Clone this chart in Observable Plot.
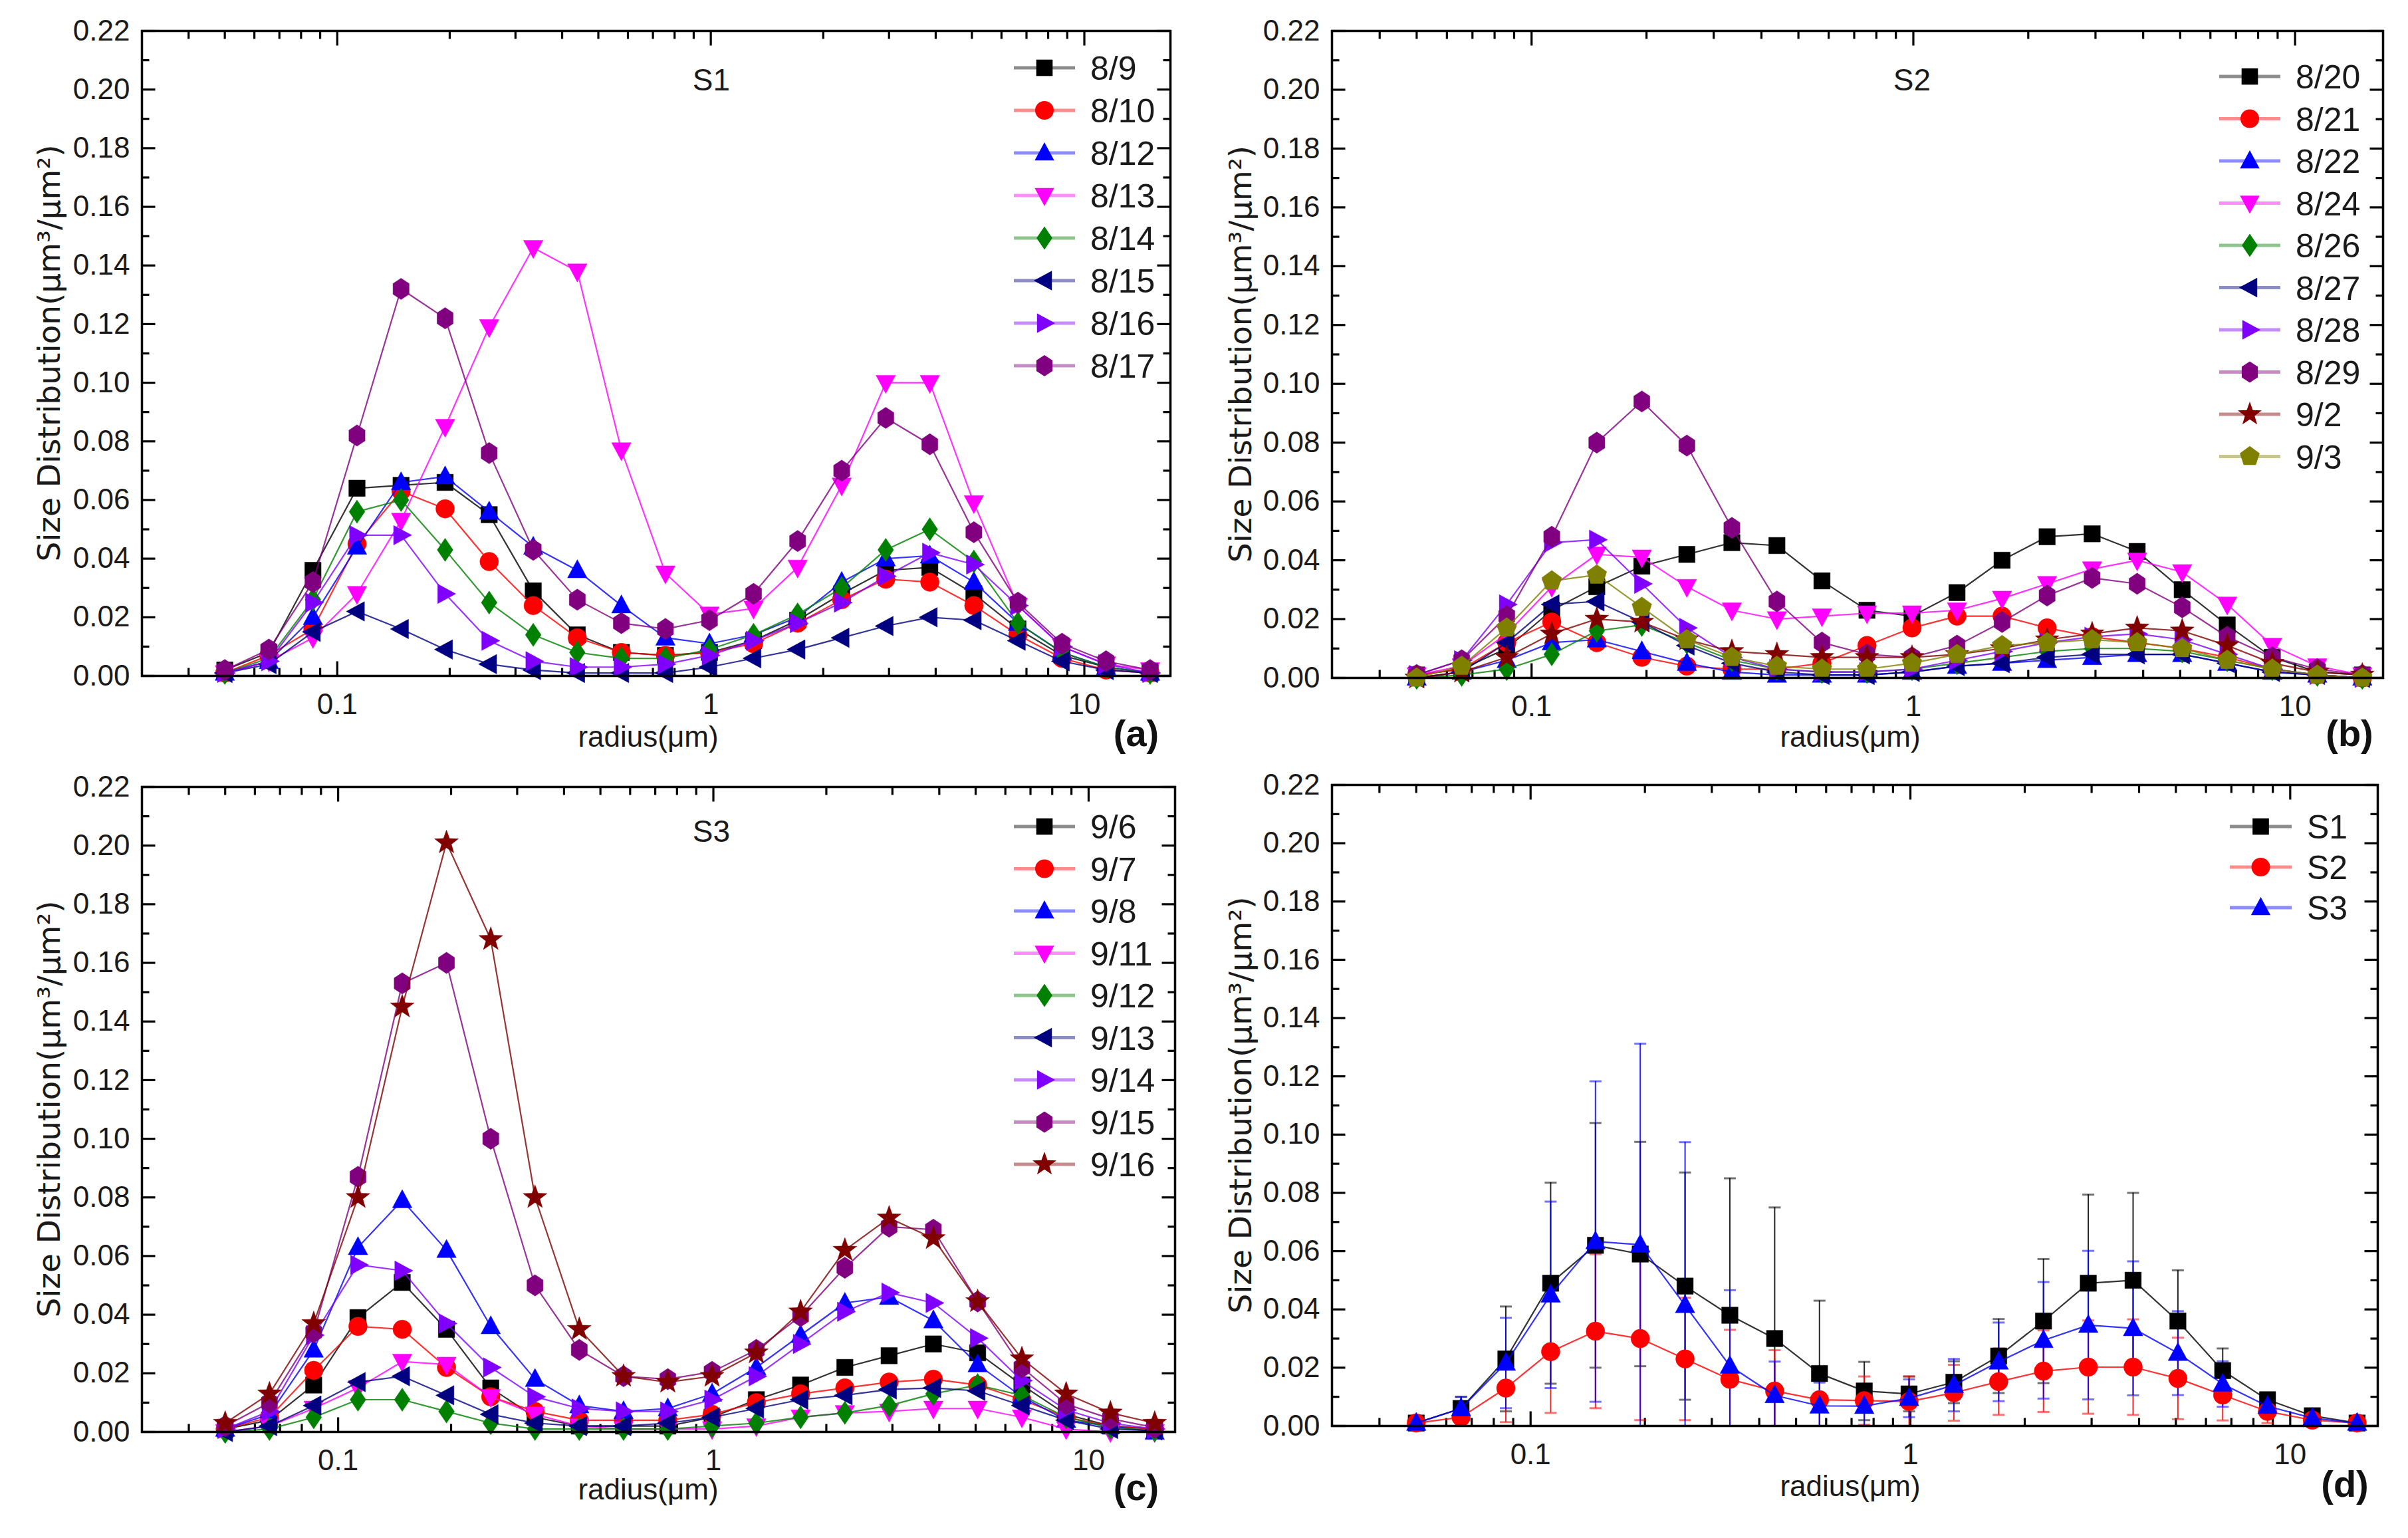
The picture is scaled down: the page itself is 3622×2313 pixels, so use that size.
<!DOCTYPE html>
<html><head><meta charset="utf-8">
<script src="https://cdn.jsdelivr.net/npm/d3@7"></script>
<script src="https://cdn.jsdelivr.net/npm/@observablehq/plot@0.6"></script>
<style>
html,body{margin:0;padding:0;background:#fff;}
#root{position:relative;width:3622px;height:2313px;overflow:hidden;background:#fff;}
#root svg{position:absolute;overflow:visible;}
</style></head><body><div id="root"></div>
<script>
// ---------------- data ----------------
const radius = [0.05, 0.065604, 0.086077, 0.112939, 0.148184, 0.194429, 0.255105, 0.334716, 0.439173, 0.576227, 0.756052, 0.991996, 1.301571, 1.707757, 2.240702, 2.939966, 3.857452, 5.06126, 6.640745, 8.713145, 11.432287, 15.0];
const yTicks = [0, 0.02, 0.04, 0.06, 0.08, 0.10, 0.12, 0.14, 0.16, 0.18, 0.20, 0.22];
const xTicks = [0.1, 1, 10];

// panel (a) S1
const a0809 = [0.002, 0.008, 0.036, 0.064, 0.065, 0.066, 0.055, 0.029, 0.014, 0.008, 0.007, 0.008, 0.012, 0.019, 0.028, 0.036, 0.037, 0.028, 0.016, 0.007, 0.003, 0.001];
const a0810 = [0.001, 0.007, 0.016, 0.045, 0.063, 0.057, 0.039, 0.024, 0.013, 0.008, 0.007, 0.008, 0.011, 0.018, 0.026, 0.033, 0.032, 0.024, 0.014, 0.006, 0.002, 0.001];
const a0812 = [0.001, 0.005, 0.020, 0.044, 0.066, 0.068, 0.056, 0.044, 0.036, 0.024, 0.013, 0.011, 0.014, 0.020, 0.032, 0.040, 0.041, 0.032, 0.018, 0.008, 0.003, 0.001];
const a0813 = [0.001, 0.005, 0.013, 0.028, 0.053, 0.085, 0.119, 0.146, 0.138, 0.077, 0.035, 0.021, 0.023, 0.037, 0.065, 0.100, 0.100, 0.059, 0.024, 0.010, 0.004, 0.002];
const a0814 = [0.001, 0.006, 0.026, 0.056, 0.060, 0.043, 0.025, 0.014, 0.008, 0.006, 0.006, 0.009, 0.014, 0.021, 0.030, 0.043, 0.050, 0.039, 0.018, 0.008, 0.003, 0.001];
const a0815 = [0.001, 0.004, 0.015, 0.022, 0.016, 0.009, 0.004, 0.002, 0.001, 0.001, 0.001, 0.003, 0.006, 0.009, 0.013, 0.017, 0.020, 0.019, 0.012, 0.005, 0.002, 0.001];
const a0816 = [0.001, 0.005, 0.025, 0.048, 0.048, 0.028, 0.012, 0.005, 0.003, 0.003, 0.004, 0.007, 0.012, 0.018, 0.025, 0.034, 0.042, 0.038, 0.024, 0.010, 0.004, 0.001];
const a0817 = [0.002, 0.009, 0.032, 0.082, 0.132, 0.122, 0.076, 0.043, 0.026, 0.018, 0.016, 0.019, 0.028, 0.046, 0.070, 0.088, 0.079, 0.049, 0.025, 0.011, 0.005, 0.002];

// panel (b) S2
const b0820 = [0.001, 0.003, 0.010, 0.023, 0.031, 0.038, 0.042, 0.046, 0.045, 0.033, 0.023, 0.021, 0.029, 0.040, 0.048, 0.049, 0.043, 0.030, 0.018, 0.007, 0.002, 0.001];
const b0821 = [0.001, 0.003, 0.012, 0.019, 0.012, 0.007, 0.004, 0.003, 0.003, 0.005, 0.011, 0.017, 0.021, 0.021, 0.017, 0.014, 0.012, 0.010, 0.007, 0.003, 0.001, 0.000];
const b0822 = [0.000, 0.002, 0.006, 0.012, 0.013, 0.009, 0.005, 0.002, 0.001, 0.001, 0.001, 0.002, 0.004, 0.005, 0.006, 0.007, 0.008, 0.008, 0.005, 0.002, 0.001, 0.000];
const b0824 = [0.001, 0.004, 0.015, 0.031, 0.042, 0.041, 0.031, 0.023, 0.020, 0.021, 0.022, 0.022, 0.023, 0.027, 0.032, 0.037, 0.040, 0.036, 0.025, 0.011, 0.004, 0.001];
const b0826 = [0.000, 0.001, 0.003, 0.008, 0.016, 0.018, 0.012, 0.006, 0.003, 0.002, 0.002, 0.003, 0.005, 0.007, 0.009, 0.010, 0.010, 0.009, 0.006, 0.003, 0.001, 0.000];
const b0827 = [0.000, 0.002, 0.012, 0.025, 0.026, 0.019, 0.011, 0.005, 0.002, 0.001, 0.001, 0.002, 0.004, 0.005, 0.007, 0.008, 0.008, 0.008, 0.005, 0.002, 0.001, 0.000];
const b0828 = [0.001, 0.006, 0.025, 0.046, 0.047, 0.032, 0.017, 0.007, 0.003, 0.002, 0.002, 0.003, 0.006, 0.009, 0.012, 0.014, 0.015, 0.013, 0.008, 0.003, 0.001, 0.000];
const b0829 = [0.001, 0.006, 0.021, 0.048, 0.080, 0.094, 0.079, 0.051, 0.026, 0.012, 0.008, 0.007, 0.011, 0.019, 0.028, 0.034, 0.032, 0.024, 0.014, 0.007, 0.003, 0.001];
const b0902 = [0.000, 0.002, 0.007, 0.015, 0.020, 0.019, 0.013, 0.009, 0.008, 0.007, 0.007, 0.007, 0.008, 0.010, 0.013, 0.015, 0.017, 0.016, 0.011, 0.005, 0.002, 0.001];
const b0903 = [0.000, 0.004, 0.017, 0.033, 0.035, 0.024, 0.013, 0.007, 0.004, 0.003, 0.003, 0.005, 0.008, 0.011, 0.012, 0.013, 0.012, 0.010, 0.006, 0.003, 0.001, 0.000];

// panel (c) S3
const c0906 = [0.001, 0.004, 0.016, 0.039, 0.051, 0.035, 0.015, 0.005, 0.002, 0.002, 0.002, 0.005, 0.011, 0.016, 0.022, 0.026, 0.030, 0.027, 0.016, 0.006, 0.002, 0.001];
const c0907 = [0.001, 0.005, 0.021, 0.036, 0.035, 0.022, 0.012, 0.007, 0.004, 0.004, 0.004, 0.006, 0.010, 0.013, 0.015, 0.017, 0.018, 0.016, 0.011, 0.005, 0.002, 0.001];
const c0908 = [0.001, 0.006, 0.028, 0.063, 0.079, 0.062, 0.036, 0.018, 0.009, 0.007, 0.008, 0.013, 0.022, 0.033, 0.044, 0.046, 0.038, 0.023, 0.012, 0.004, 0.002, 0.000];
const c0911 = [0.000, 0.002, 0.008, 0.015, 0.024, 0.023, 0.012, 0.006, 0.002, 0.001, 0.001, 0.001, 0.002, 0.005, 0.0065, 0.007, 0.008, 0.008, 0.005, 0.001, 0.000, 0.000];
const c0912 = [0.000, 0.001, 0.005, 0.011, 0.011, 0.007, 0.003, 0.001, 0.001, 0.001, 0.001, 0.002, 0.003, 0.005, 0.0065, 0.009, 0.013, 0.016, 0.0125, 0.005, 0.0015, 0.0005];
const c0913 = [0.000, 0.002, 0.009, 0.017, 0.019, 0.0125, 0.006, 0.003, 0.002, 0.002, 0.003, 0.005, 0.008, 0.011, 0.0125, 0.0145, 0.015, 0.014, 0.009, 0.004, 0.001, 0.0005];
const c0914 = [0.001, 0.007, 0.033, 0.057, 0.055, 0.037, 0.022, 0.012, 0.008, 0.007, 0.007, 0.011, 0.019, 0.030, 0.041, 0.0475, 0.044, 0.032, 0.0175, 0.0075, 0.003, 0.001];
const c0915 = [0.002, 0.010, 0.034, 0.087, 0.153, 0.160, 0.100, 0.050, 0.028, 0.019, 0.018, 0.0205, 0.028, 0.0395, 0.056, 0.070, 0.069, 0.0445, 0.022, 0.0095, 0.0045, 0.0015];
const c0916 = [0.003, 0.013, 0.037, 0.080, 0.145, 0.201, 0.168, 0.080, 0.035, 0.019, 0.017, 0.019, 0.027, 0.041, 0.062, 0.073, 0.066, 0.0445, 0.025, 0.013, 0.0065, 0.003];

// panel (d) means and standard deviations
const dS1 = [0.001, 0.006, 0.023, 0.049, 0.062, 0.059, 0.048, 0.038, 0.030, 0.018, 0.012, 0.011, 0.015, 0.024, 0.036, 0.049, 0.050, 0.036, 0.019, 0.009, 0.0035, 0.001];
const dS1sd = [0.001, 0.004, 0.018, 0.0345, 0.042, 0.0385, 0.039, 0.047, 0.045, 0.025, 0.010, 0.006, 0.0072, 0.0127, 0.0213, 0.0304, 0.030, 0.0174, 0.0076, 0.0015, 0.001, 0.0005];
const dS2 = [0.001, 0.003, 0.013, 0.0255, 0.0325, 0.030, 0.023, 0.016, 0.012, 0.009, 0.0087, 0.0084, 0.0114, 0.0152, 0.0188, 0.0202, 0.0202, 0.0163, 0.0106, 0.005, 0.002, 0.001];
const dS2sd = [0.0005, 0.002, 0.0117, 0.021, 0.0264, 0.028, 0.021, 0.017, 0.014, 0.010, 0.0083, 0.0086, 0.0096, 0.0114, 0.014, 0.016, 0.0164, 0.014, 0.0087, 0.004, 0.0015, 0.0005];
const dS3 = [0.001, 0.006, 0.0216, 0.045, 0.0633, 0.0622, 0.0414, 0.0206, 0.0105, 0.0069, 0.0068, 0.0095, 0.014, 0.022, 0.0294, 0.0346, 0.0335, 0.025, 0.0144, 0.0068, 0.0027, 0.001];
const dS3sd = [0.001, 0.004, 0.0155, 0.032, 0.055, 0.069, 0.056, 0.026, 0.0116, 0.008, 0.007, 0.0065, 0.009, 0.0135, 0.020, 0.0255, 0.023, 0.0144, 0.0078, 0.003, 0.0015, 0.0005];

const namesA = ["8/9", "8/10", "8/12", "8/13", "8/14", "8/15", "8/16", "8/17"];
const namesB = ["8/20", "8/21", "8/22", "8/24", "8/26", "8/27", "8/28", "8/29", "9/2", "9/3"];
const namesC = ["9/6", "9/7", "9/8", "9/11", "9/12", "9/13", "9/14", "9/15", "9/16"];
const namesD = ["S1", "S2", "S3"];

// ---------------- styles ----------------
const COL = {black:"#000000", red:"#ff0000", blue:"#0000ff", magenta:"#ff00ff", green:"#008000", navy:"#000080", violet:"#8000ff", purple:"#800080", darkred:"#800000", olive:"#808000"};
const NARROW = "'Liberation Sans Narrow','Arial Narrow','Liberation Sans',sans-serif";
const WIDE = "'DejaVu Sans','Liberation Sans',sans-serif";

function poly(pts){ return {draw(ctx,size){ const R=Math.sqrt(size/Math.PI); ctx.moveTo(pts[0][0]*R,pts[0][1]*R); for(let i=1;i<pts.length;i++) ctx.lineTo(pts[i][0]*R,pts[i][1]*R); ctx.closePath(); }}; }
function star(n, ro, ri){ const p=[]; for(let i=0;i<2*n;i++){ const a=-Math.PI/2+i*Math.PI/n, r=i%2?ri:ro; p.push([r*Math.cos(a), r*Math.sin(a)]);} return poly(p); }
function ngon(n, rx, ry){ const p=[]; for(let i=0;i<n;i++){ const a=-Math.PI/2+i*2*Math.PI/n; p.push([rx*Math.cos(a), ry*Math.sin(a)]);} return poly(p); }
const SYM = {
  square: poly([[-0.88,-0.88],[0.88,-0.88],[0.88,0.88],[-0.88,0.88]]),
  circle: {draw(ctx,size){ const R=Math.sqrt(size/Math.PI); ctx.moveTo(R,0); ctx.arc(0,0,R,0,2*Math.PI); }},
  up: poly([[0,-1.15],[1.05,0.8],[-1.05,0.8]]),
  down: poly([[0,1.15],[1.05,-0.8],[-1.05,-0.8]]),
  left: poly([[-1.15,0],[0.8,-1.05],[0.8,1.05]]),
  right: poly([[1.15,0],[-0.8,-1.05],[-0.8,1.05]]),
  diamond: poly([[0,-1.25],[0.85,0],[0,1.25],[-0.85,0]]),
  hexagon: ngon(6, 1.0, 1.15),
  star: star(5, 1.35, 0.55),
  pentagon: ngon(5, 1.12, 1.12)
};
const seg = (dx, dy) => ({draw(ctx){ ctx.moveTo(0,0); ctx.lineTo(dx,dy); }});
const hcap = (w) => ({draw(ctx){ ctx.moveTo(-w,0); ctx.lineTo(w,0); }});

const styleList = [
  ["black","square"],["red","circle"],["blue","up"],["magenta","down"],["green","diamond"],
  ["navy","left"],["violet","right"],["purple","hexagon"],["darkred","star"],["olive","pentagon"]
];

const yMinor = d3.range(1, 22, 2).map(i => i/100);
const xMinor = [0.04,0.05,0.06,0.07,0.08,0.09,0.2,0.3,0.4,0.5,0.6,0.7,0.8,0.9,2,3,4,5,6,7,8,9];
const MR = 14;

function makePanel(cfg){
  const root = document.getElementById("root");
  const marks = [];
  const tk = {r:1, fill:"none", stroke:"#000", strokeWidth:3.2};
  marks.push(Plot.dot(yTicks, {...tk, y:d=>d, frameAnchor:"left", symbol:seg(20,0)}));
  marks.push(Plot.dot(yMinor, {...tk, y:d=>d, frameAnchor:"left", symbol:seg(11,0)}));
  marks.push(Plot.dot(yTicks, {...tk, y:d=>d, frameAnchor:"right", symbol:seg(-20,0)}));
  marks.push(Plot.dot(yMinor, {...tk, y:d=>d, frameAnchor:"right", symbol:seg(-11,0)}));
  marks.push(Plot.dot(xTicks, {...tk, x:d=>d, frameAnchor:"bottom", symbol:seg(0,-22)}));
  marks.push(Plot.dot(xMinor, {...tk, x:d=>d, frameAnchor:"bottom", symbol:seg(0,-12)}));
  marks.push(Plot.dot(xTicks, {...tk, x:d=>d, frameAnchor:"top", symbol:seg(0,22)}));
  marks.push(Plot.dot(xMinor, {...tk, x:d=>d, frameAnchor:"top", symbol:seg(0,12)}));
  marks.push(Plot.axisY({ticks:yTicks, tickSize:0, tickPadding:18, tickFormat:d3.format(".2f"), label:null, fontSize:44}));
  marks.push(Plot.axisX({ticks:xTicks, tickSize:0, tickPadding:26, tickFormat:d=>String(d), label:null, fontSize:44}));

  cfg.series.forEach((s) => {
    const rows = radius.map((r,i)=>({r, v:s.values[i], e: s.sd ? s.sd[i] : 0}));
    const c = COL[s.color];
    if (s.sd) {
      marks.push(Plot.ruleX(rows, {x:"r", y1:d=>d.v-d.e, y2:d=>d.v+d.e, stroke:c, strokeWidth:2, strokeOpacity:0.85, clip:true}));
      marks.push(Plot.dot(rows, {x:"r", y:d=>d.v+d.e, symbol:hcap(9), r:1, fill:"none", stroke:c, strokeWidth:3, strokeOpacity:0.55, clip:true}));
      marks.push(Plot.dot(rows, {x:"r", y:d=>d.v-d.e, symbol:hcap(9), r:1, fill:"none", stroke:c, strokeWidth:3, strokeOpacity:0.55, clip:true}));
    }
  });
  cfg.series.forEach((s) => {
    const rows = radius.map((r,i)=>({r, v:s.values[i]}));
    const c = COL[s.color];
    marks.push(Plot.line(rows, {x:"r", y:"v", stroke:c, strokeWidth:2.2, strokeOpacity:0.8}));
    marks.push(Plot.dot(rows, {x:"r", y:"v", symbol:SYM[s.sym], r:MR, fill:c, stroke:c, strokeWidth:0.5}));
  });
  marks.push(Plot.frame({stroke:"#000", strokeWidth:3.5}));

  const svgEl = Plot.plot({
    width: cfg.w, height: cfg.h,
    marginLeft: cfg.m[0], marginRight: cfg.m[1], marginTop: cfg.m[2], marginBottom: cfg.m[3],
    x: {type:"log", domain:[0.03, 17]},
    y: {domain:[0, 0.22]},
    style: {fontFamily: NARROW, fontSize:"44px", color:"#1a1a1a", background:"transparent", overflow:"visible"},
    marks
  });
  svgEl.style.left = cfg.left + "px";
  svgEl.style.top = cfg.top + "px";
  root.appendChild(svgEl);

  const svg = d3.select(svgEl);
  const fTop = cfg.m[2], fBot = cfg.h - cfg.m[3];
  // axis titles
  svg.append("text").attr("x", cfg.xlab[0]).attr("y", cfg.xlab[1]).attr("dy","0.35em")
    .attr("text-anchor","middle").attr("font-family", NARROW).attr("font-size", 44).attr("fill","#1a1a1a")
    .text("radius(μm)");
  svg.append("text").attr("transform", `translate(${cfg.ylabX},${(fTop+fBot)/2}) rotate(-90)`).attr("dy","0.35em")
    .attr("text-anchor","middle").attr("font-family", WIDE).attr("font-size", 47).attr("fill","#1a1a1a")
    .text("Size Distribution(μm³/μm²)");
  // panel title & tag
  if (cfg.title) svg.append("text").attr("x", cfg.title[0]).attr("y", cfg.title[1]).attr("dy","0.35em")
    .attr("text-anchor","middle").attr("font-family", NARROW).attr("font-size", 46).attr("fill","#1a1a1a").text(cfg.title[2]);
  svg.append("text").attr("x", cfg.tag[0]).attr("y", cfg.tag[1]).attr("dy","0.35em")
    .attr("text-anchor","middle").attr("font-family","'Liberation Sans',Arial,sans-serif").attr("font-weight","bold")
    .attr("font-size", 56).attr("fill","#111").text(cfg.tag[2]);
  // legend
  const lg = cfg.legend;
  const g = svg.append("g");
  cfg.series.forEach((s, i) => {
    const y = lg.y0 + i*lg.step, c = COL[s.color];
    g.append("line").attr("x1", lg.x1).attr("x2", lg.x2).attr("y1", y).attr("y2", y)
      .attr("stroke", c).attr("stroke-width", 5).attr("stroke-opacity", 0.45);
    g.append("path").attr("transform", `translate(${(lg.x1+lg.x2)/2},${y})`)
      .attr("d", d3.symbol(SYM[s.sym], Math.PI*MR*MR)()).attr("fill", c);
    g.append("text").attr("x", lg.tx).attr("y", y).attr("dy","0.36em").attr("text-anchor","start")
      .attr("font-family", NARROW).attr("font-size", 50).attr("fill","#1a1a1a").text(s.name);
  });
}

function build(names, arrays, sds){
  return names.map((n,i)=>({name:n, values:arrays[i], sd: sds ? sds[i] : null, color:styleList[i][0], sym:styleList[i][1]}));
}

makePanel({
  series: build(namesA, [a0809,a0810,a0812,a0813,a0814,a0815,a0816,a0817]),
  left:0, top:0, w:1800, h:1150, m:[213,40,46,134],
  xlab:[975,1108], ylabX:74, title:[1070,120,"S1"], tag:[1709,1102,"(a)"],
  legend:{x1:1525, x2:1617, tx:1640, y0:102, step:64}
});
makePanel({
  series: build(namesB, [b0820,b0821,b0822,b0824,b0826,b0827,b0828,b0829,b0902,b0903]),
  left:1800, top:0, w:1822, h:1150, m:[203,38,46,131],
  xlab:[983,1108], ylabX:66, title:[1076,120,"S2"], tag:[1734,1102,"(b)"],
  legend:{x1:1538, x2:1630, tx:1653, y0:115, step:63.5}
});
makePanel({
  series: build(namesC, [c0906,c0907,c0908,c0911,c0912,c0913,c0914,c0915,c0916]),
  left:0, top:1140, w:1800, h:1173, m:[213,33,43,160],
  xlab:[975,1100], ylabX:74, title:[1070,110,"S3"], tag:[1709,1096,"(c)"],
  legend:{x1:1525, x2:1617, tx:1640, y0:103, step:63.5}
});
makePanel({
  series: build(namesD, [dS1,dS2,dS3], [dS1sd,dS2sd,dS3sd]),
  left:1800, top:1140, w:1822, h:1173, m:[203,46,40,169],
  xlab:[983,1095], ylabX:66, title:null, tag:[1727,1091,"(d)"],
  legend:{x1:1554, x2:1647, tx:1670, y0:103, step:61}
});
</script>
</body></html>
